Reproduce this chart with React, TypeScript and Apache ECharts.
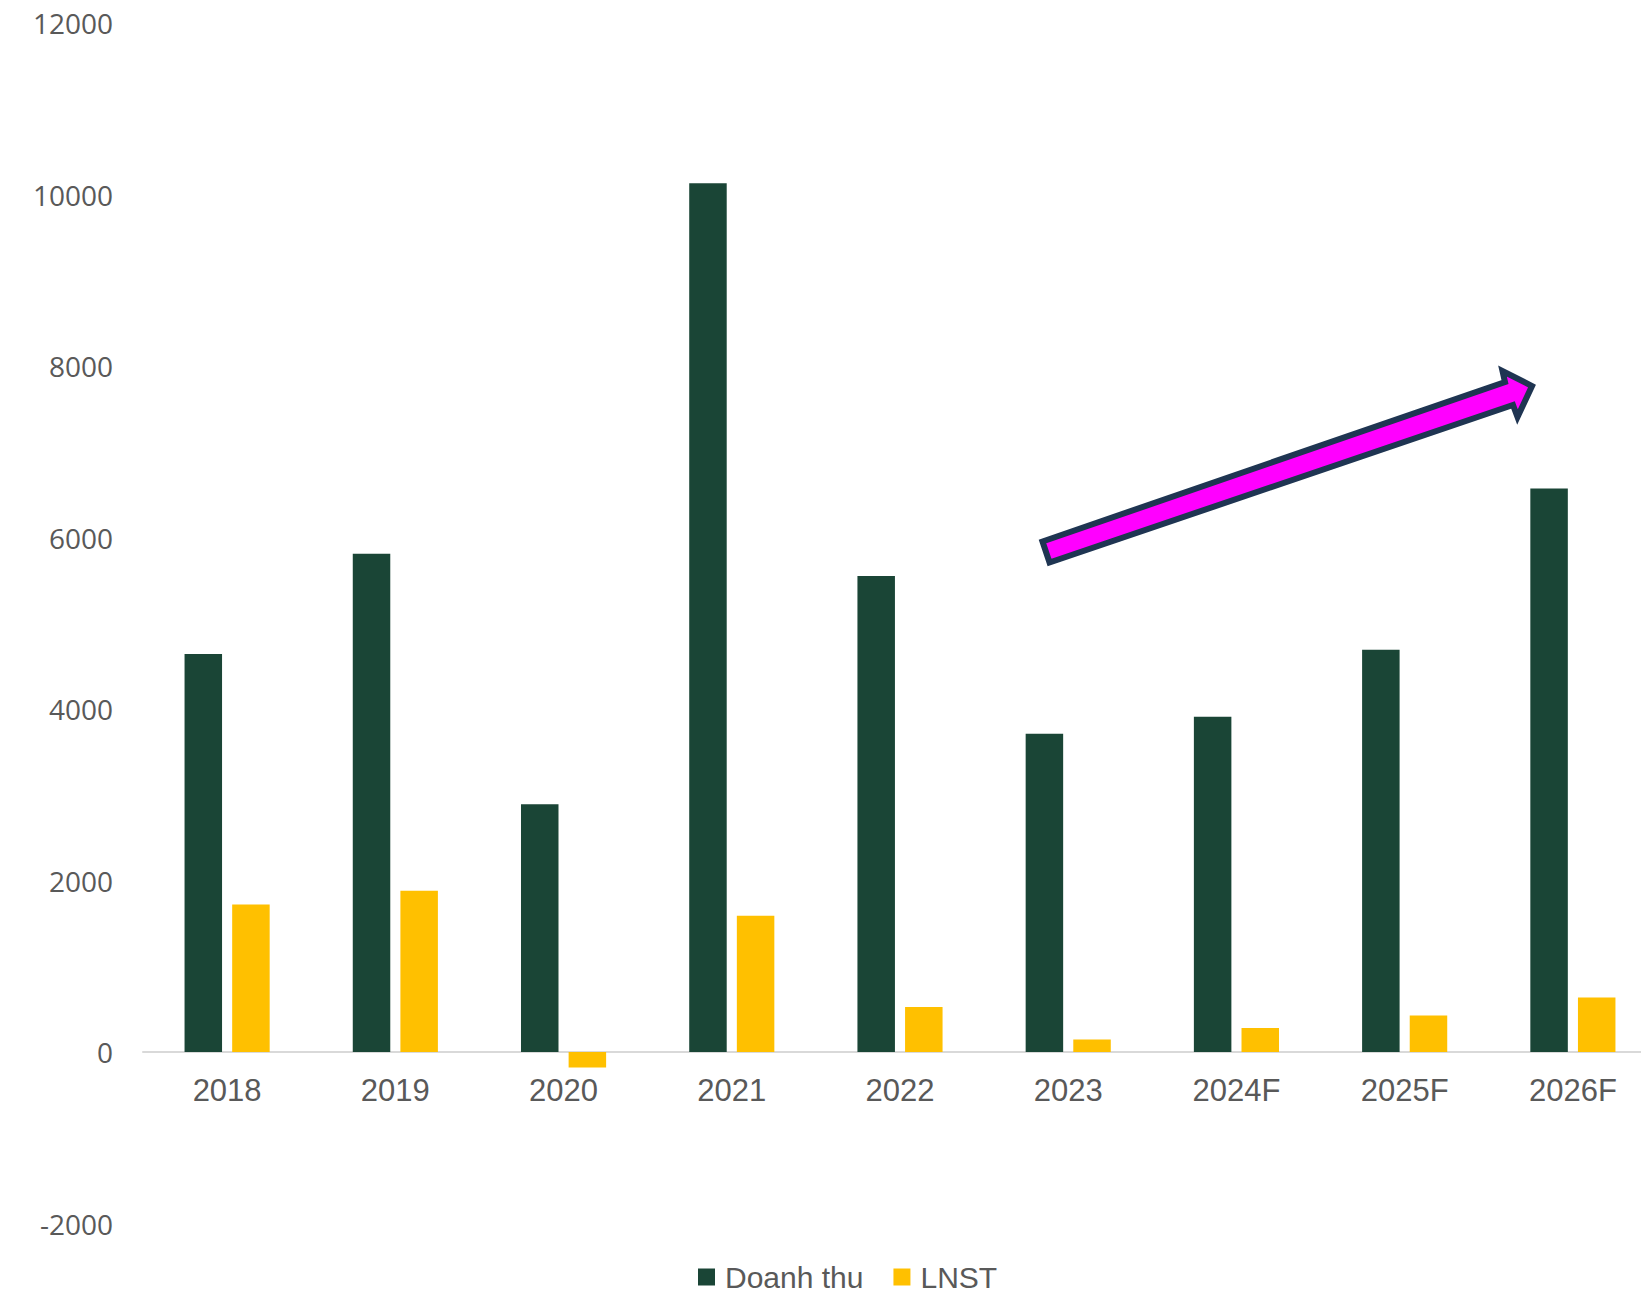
import React, { useEffect, useRef } from "react";
import * as echarts from "echarts";

const categories = ["2018", "2019", "2020", "2021", "2022", "2023", "2024F", "2025F", "2026F"];
const revenue = [4640, 5810, 2890, 10130, 5550, 3710, 3910, 4690, 6570];
const profit = [1720, 1880, -180, 1590, 525, 146, 281, 427, 635];
const yTicks = { min: -2000, max: 12000, interval: 2000 };
const seriesNames = ["Doanh thu", "LNST"];

const arrowPoints = [
  [1042.5, 541.5],
  [1505, 382],
  [1502.5, 371],
  [1532, 386],
  [1517.5, 417],
  [1513, 405],
  [1049.5, 562.5],
];

export default function App() {
  const ref = useRef<HTMLDivElement>(null);
  useEffect(() => {
    const chart = echarts.init(ref.current!, null, { renderer: "svg" });
    chart.setOption({
      animation: false,
      backgroundColor: "#ffffff",
      grid: { left: 143, right: 0, top: 23, bottom: 72.5, containLabel: false },
      legend: {
        data: seriesNames,
        left: 698,
        top: 1262,
        padding: 0,
        itemWidth: 17,
        itemHeight: 17,
        itemGap: 30,
        icon: "rect",
        textStyle: {
          fontFamily: "Liberation Sans, Arial",
          fontSize: 30,
          lineHeight: 29,
          color: "#595959",
          padding: [0, 0, 0, 5],
        },
      },
      xAxis: {
        type: "category",
        data: categories,
        position: "bottom",
        offset: -171.5,
        axisLine: { show: true, onZero: false, lineStyle: { color: "#d9d9d9", width: 2 } },
        axisTick: { show: false },
        axisLabel: { fontFamily: "Liberation Sans, Arial", fontSize: 31, color: "#595959", margin: 23 },
        splitLine: { show: false },
      },
      yAxis: {
        type: "value",
        min: yTicks.min,
        max: yTicks.max,
        interval: yTicks.interval,
        axisLine: { show: false },
        axisTick: { show: false },
        splitLine: { show: false },
        axisLabel: {
          fontFamily: "Open Sans",
          fontSize: 28,
          color: "#595959",
          margin: 30,
          formatter: (v: number) => String(v),
        },
      },
      series: [
        {
          name: seriesNames[0],
          type: "bar",
          data: revenue,
          barWidth: 37.5,
          barGap: "27%",
          itemStyle: { color: "#1a4536" },
        },
        {
          name: seriesNames[1],
          type: "bar",
          data: profit,
          barWidth: 37.5,
          itemStyle: { color: "#ffc000" },
        },
      ],
      graphic: [
        {
          type: "polygon",
          z: 100,
          shape: { points: arrowPoints },
          style: { fill: "#ff00ff", stroke: "#1f3552", lineWidth: 6, lineJoin: "miter" },
        },
      ],
    });
    return () => chart.dispose();
  }, []);
  return (
    <div style={{ position: "absolute", left: 0, top: 0, width: 1641, height: 1296, overflow: "hidden" }}>
      <div ref={ref} style={{ width: 1657, height: 1296 }} />
    </div>
  );
}
